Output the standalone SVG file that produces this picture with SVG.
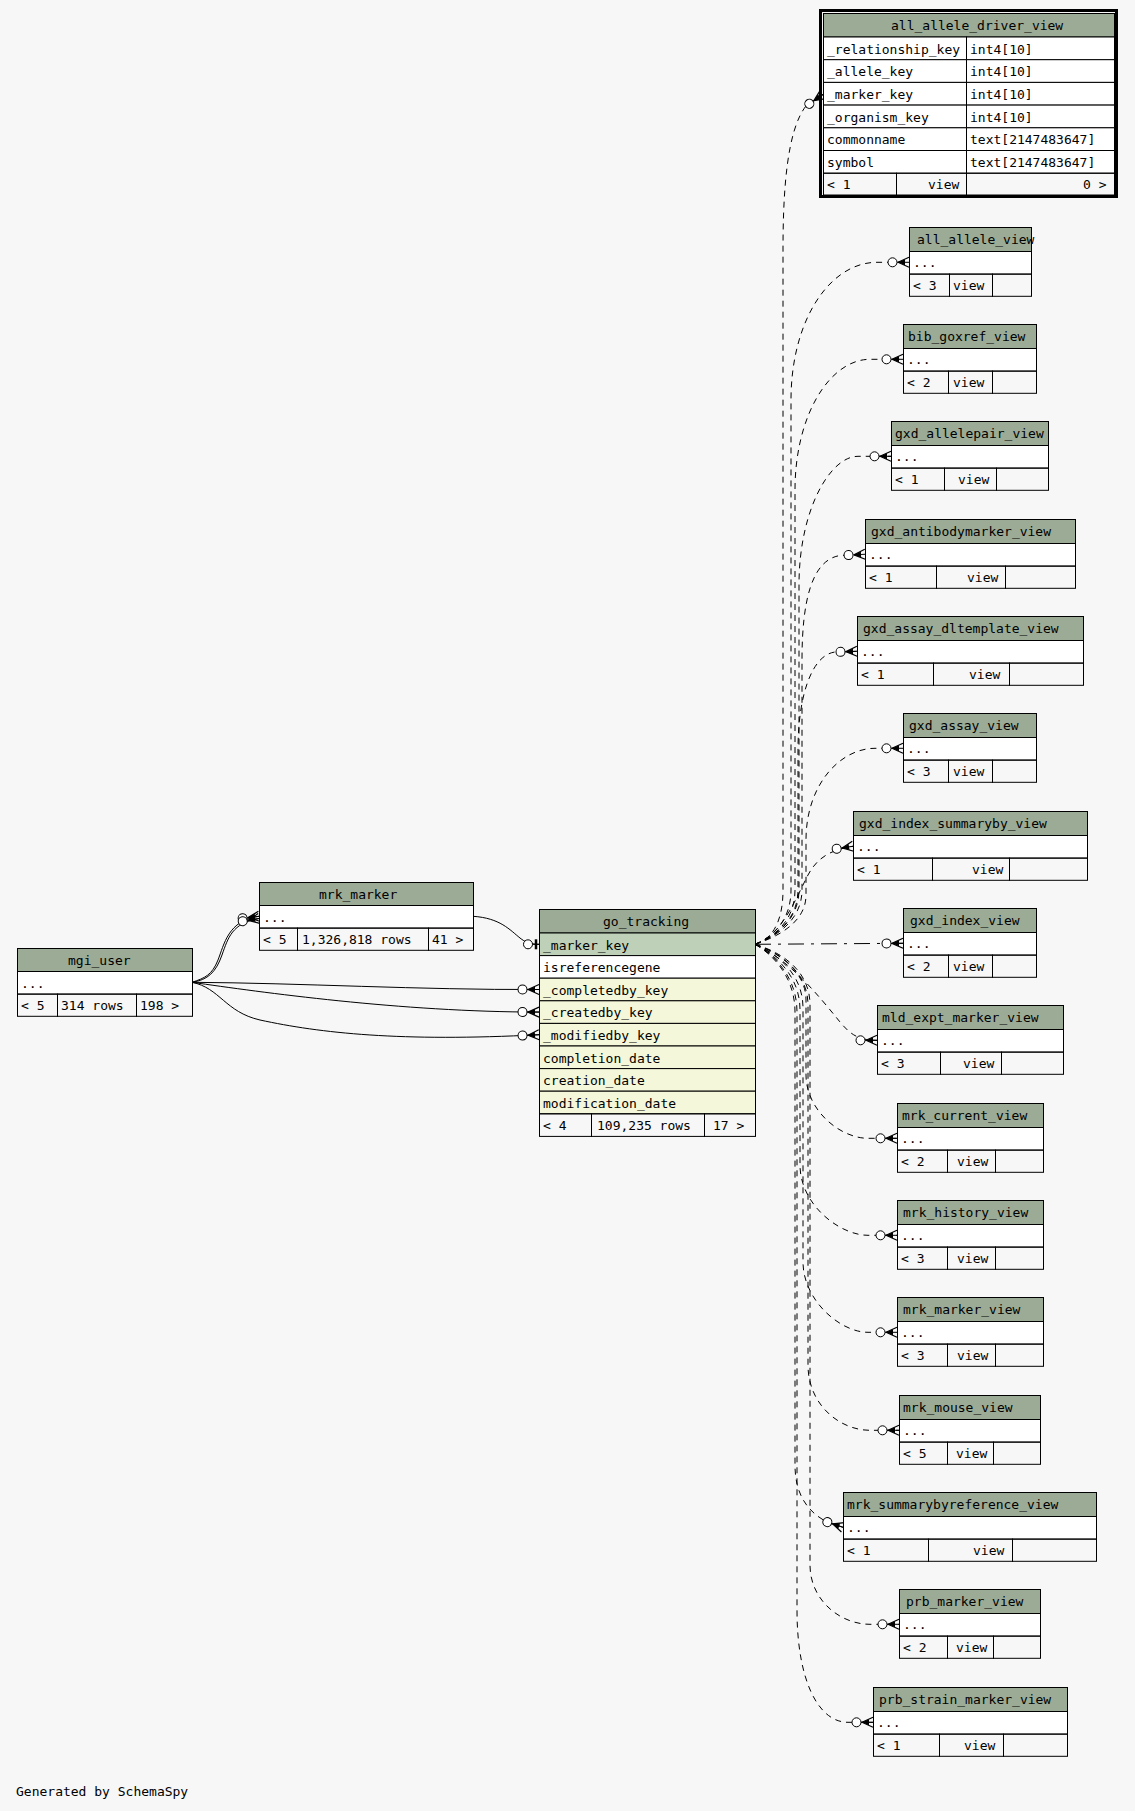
<svg xmlns="http://www.w3.org/2000/svg" width="1135" height="1811" viewBox="0 0 1135 1811">
<style>
.h{fill:#9bab96;stroke:#000;stroke-width:1}
.w{fill:#fff;stroke:#000;stroke-width:1}
.pk{fill:#bed1b8;stroke:#000;stroke-width:1}
.ix{fill:#f4f7da;stroke:#000;stroke-width:1}
.f{fill:none;stroke:#000;stroke-width:1}
text{font-family:"DejaVu Sans Mono","Liberation Mono",monospace;font-size:13px;fill:#000}
.e{fill:none;stroke:#000;stroke-width:1}
.d{stroke-dasharray:6,5}
.dd{stroke-dasharray:16,7,3,7}
</style>
<defs>
<marker id="crow" markerUnits="userSpaceOnUse" markerWidth="26" markerHeight="14" viewBox="-23 -7 26 14" refX="0" refY="0" orient="auto" overflow="visible">
<line x1="-12" y1="0" x2="0" y2="0" stroke="#000" stroke-width="1"/>
<path d="M-11,0 L0,-5 M-11,0 L0,5" stroke="#000" stroke-width="1.2" fill="none"/>
<path d="M-11,0 L-4,-3 L-4,3 Z" fill="#000"/>
<circle cx="-16.5" cy="0" r="4.5" fill="#fff" stroke="#000" stroke-width="1"/>
</marker>
<marker id="tee" markerUnits="userSpaceOnUse" markerWidth="20" markerHeight="14" viewBox="-18 -7 20 14" refX="0" refY="0" orient="auto" overflow="visible">
<line x1="-7" y1="0" x2="0" y2="0" stroke="#000" stroke-width="1"/>
<line x1="-3" y1="-5" x2="-3" y2="5" stroke="#000" stroke-width="2.5"/>
<circle cx="-11" cy="0" r="4.5" fill="#fff" stroke="#000" stroke-width="1"/>
</marker>
</defs>
<rect x="0" y="0" width="1135" height="1811" fill="#f7f7f7"/>

<g id="connectors">
<path class="e" d="M192,982.3 C205,978 212,975 218,960 C224,945 228,920 259,916.3" marker-end="url(#crow)"/>
<path class="e" d="M192,982.3 C208,980 216,972 222,955 C228,938 232,923 259,918.5" marker-end="url(#crow)"/>
<path class="e" d="M192,982.3 C300,983 420,990 539,989.5" marker-end="url(#crow)"/>
<path class="e" d="M192,982.3 C260,992 400,1012 539,1012.1" marker-end="url(#crow)"/>
<path class="e" d="M192,982.3 C220,988 225,1012 260,1020 C320,1033 400,1042 539,1034.7" marker-end="url(#crow)"/>
<path class="e" d="M473,916.3 C500,918 510,930 520,938 C525,942 530,944.3 539,944.3" marker-end="url(#tee)"/>

<path class="e d" d="M755,944.3 C770,940 783,925 783,890 L783,250 C783,190 787,130 806,106 L823,94.5" marker-end="url(#crow)"/>
<path class="e d" d="M755,944.3 C771,938 791,922 791,890 L791,400 C791,320 830,262.3 877,262.3 L909,262.3" marker-end="url(#crow)"/>
<path class="e d" d="M755,944.3 C772,938 795,922 795,890 L795,490 C795,415 830,359.3 870,359.3 L903,359.3" marker-end="url(#crow)"/>
<path class="e d" d="M755,944.3 C772,938 799,922 799,890 L799,585 C799,510 830,456.3 858,456.3 L891,456.3" marker-end="url(#crow)"/>
<path class="e d" d="M755,944.3 C773,938 802,922 802,890 L802,660 C802,600 812,560 840,555.5 L865,554.3" marker-end="url(#crow)"/>
<path class="e d" d="M755,944.3 C772,938 798,922 798,890 L798,750 C798,695 812,655 835,652 L857,651.3" marker-end="url(#crow)"/>
<path class="e d" d="M755,944.3 C774,938 806,924 806,895 L806,840 C806,785 840,748.3 875,748.3 L903,748.3" marker-end="url(#crow)"/>
<path class="e d" d="M755,944.3 C782,935 795,900 808,875 C816,860 828,850 853,846.3" marker-end="url(#crow)"/>
<path class="e dd" d="M755,944.3 L903,943.3" marker-end="url(#crow)"/>
<path class="e d" d="M755,944.3 C790,960 818,995 840,1022 C850,1034 858,1040.3 877,1040.3" marker-end="url(#crow)"/>
<path class="e d" d="M755,944.3 C772,950 806,968 806,1000 L806,1075 C806,1110 840,1138.3 868,1138.3 L897,1138.3" marker-end="url(#crow)"/>
<path class="e d" d="M755,944.3 C770,952 800,972 800,1010 L800,1165 C800,1205 840,1235.3 868,1235.3 L897,1235.3" marker-end="url(#crow)"/>
<path class="e d" d="M755,944.3 C771,951 803,970 803,1008 L803,1262 C803,1300 840,1332.3 868,1332.3 L897,1332.3" marker-end="url(#crow)"/>
<path class="e d" d="M755,944.3 C773,950 808,968 808,1005 L808,1365 C808,1405 840,1430.3 870,1430.3 L899,1430.3" marker-end="url(#crow)"/>
<path class="e d" d="M755,944.3 C769,952 795,974 795,1012 L795,1465 C795,1495 808,1512 827,1522 L843,1527.3" marker-end="url(#crow)"/>
<path class="e d" d="M755,944.3 C774,950 810,966 810,1005 L810,1565 C810,1600 840,1624.3 870,1624.3 L899,1624.3" marker-end="url(#crow)"/>
<path class="e d" d="M755,944.3 C770,952 797,974 797,1012 L797,1610 C797,1680 818,1722.3 848,1722.3 L873,1722.3" marker-end="url(#crow)"/>
</g>

<g id="all_allele_driver_view">
<rect x="820.5" y="10.5" width="296" height="186" fill="none" stroke="#000" stroke-width="3"/>
<rect class="h" x="823.5" y="13.5" width="291" height="23.5"/>
<rect class="w" x="823.5" y="37" width="143" height="22.7"/><rect class="w" x="966.5" y="37" width="148" height="22.7"/>
<rect class="w" x="823.5" y="59.7" width="143" height="22.7"/><rect class="w" x="966.5" y="59.7" width="148" height="22.7"/>
<rect class="w" x="823.5" y="82.4" width="143" height="22.7"/><rect class="w" x="966.5" y="82.4" width="148" height="22.7"/>
<rect class="w" x="823.5" y="105.1" width="143" height="22.7"/><rect class="w" x="966.5" y="105.1" width="148" height="22.7"/>
<rect class="w" x="823.5" y="127.8" width="143" height="22.7"/><rect class="w" x="966.5" y="127.8" width="148" height="22.7"/>
<rect class="w" x="823.5" y="150.5" width="143" height="22.7"/><rect class="w" x="966.5" y="150.5" width="148" height="22.7"/>
<rect class="f" x="823.5" y="173.2" width="73" height="21.8"/><rect class="f" x="896.5" y="173.2" width="70" height="21.8"/><rect class="f" x="966.5" y="173.2" width="148" height="21.8"/>
<text x="891" y="30">all_allele_driver_view</text>
<text x="827" y="53.5">_relationship_key</text><text x="970" y="53.5">int4[10]</text>
<text x="827" y="76.2">_allele_key</text><text x="970" y="76.2">int4[10]</text>
<text x="827" y="98.9">_marker_key</text><text x="970" y="98.9">int4[10]</text>
<text x="827" y="121.6">_organism_key</text><text x="970" y="121.6">int4[10]</text>
<text x="827" y="144.3">commonname</text><text x="970" y="144.3">text[2147483647]</text>
<text x="827" y="167">symbol</text><text x="970" y="167">text[2147483647]</text>
<text x="827" y="189">&lt; 1</text><text x="928" y="189">view</text><text x="1083" y="189">0 &gt;</text>
</g>

<g id="mgi_user">
<rect class="h" x="17.5" y="948.5" width="175" height="23"/>
<rect class="w" x="17.5" y="971.5" width="175" height="22.6"/>
<rect class="f" x="17.5" y="994.1" width="40" height="22.2"/><rect class="f" x="57.5" y="994.1" width="79" height="22.2"/><rect class="f" x="136.5" y="994.1" width="56" height="22.2"/>
<text x="68" y="965">mgi_user</text>
<text x="21" y="987.5">...</text>
<text x="21" y="1010">&lt; 5</text><text x="61" y="1010">314 rows</text><text x="140" y="1010">198 &gt;</text>
</g>

<g id="mrk_marker">
<rect class="h" x="259.5" y="882.5" width="214" height="23"/>
<rect class="w" x="259.5" y="905.5" width="214" height="22.6"/>
<rect class="f" x="259.5" y="928.1" width="38" height="22.2"/><rect class="f" x="297.5" y="928.1" width="131" height="22.2"/><rect class="f" x="428.5" y="928.1" width="45" height="22.2"/>
<text x="319" y="899">mrk_marker</text>
<text x="263" y="921.5">...</text>
<text x="263" y="944">&lt; 5</text><text x="302" y="944">1,326,818 rows</text><text x="432" y="944">41 &gt;</text>
</g>

<g id="go_tracking">
<rect class="h" x="539.5" y="909.5" width="216" height="23.5"/>
<rect class="pk" x="539.5" y="933" width="216" height="22.6"/>
<rect class="w" x="539.5" y="955.6" width="216" height="22.6"/>
<rect class="ix" x="539.5" y="978.2" width="216" height="22.6"/>
<rect class="ix" x="539.5" y="1000.8" width="216" height="22.6"/>
<rect class="ix" x="539.5" y="1023.4" width="216" height="22.6"/>
<rect class="ix" x="539.5" y="1046" width="216" height="22.6"/>
<rect class="ix" x="539.5" y="1068.6" width="216" height="22.6"/>
<rect class="ix" x="539.5" y="1091.2" width="216" height="22.6"/>
<rect class="f" x="539.5" y="1113.8" width="52" height="22.6"/><rect class="f" x="591.5" y="1113.8" width="113" height="22.6"/><rect class="f" x="704.5" y="1113.8" width="51" height="22.6"/>
<text x="603" y="926">go_tracking</text>
<text x="543" y="949.6">_marker_key</text>
<text x="543" y="972.2">isreferencegene</text>
<text x="543" y="994.8">_completedby_key</text>
<text x="543" y="1017.4">_createdby_key</text>
<text x="543" y="1040">_modifiedby_key</text>
<text x="543" y="1062.6">completion_date</text>
<text x="543" y="1085.2">creation_date</text>
<text x="543" y="1107.8">modification_date</text>
<text x="543" y="1130.4">&lt; 4</text><text x="597" y="1130.4">109,235 rows</text><text x="713" y="1130.4">17 &gt;</text>
</g>

<g id="all_allele_view">
<rect class="h" x="909.5" y="227.5" width="122" height="24"/>
<rect class="w" x="909.5" y="251.5" width="122" height="22.6"/>
<rect class="f" x="909.5" y="274.1" width="40" height="22.2"/><rect class="f" x="949.5" y="274.1" width="43" height="22.2"/><rect class="f" x="992.5" y="274.1" width="39" height="22.2"/>
<text x="917" y="244">all_allele_view</text><text x="913" y="267">...</text>
<text x="913" y="290">&lt; 3</text><text x="953" y="290">view</text>
</g>

<g id="bib_goxref_view">
<rect class="h" x="903.5" y="324.5" width="133" height="24"/>
<rect class="w" x="903.5" y="348.5" width="133" height="22.6"/>
<rect class="f" x="903.5" y="371.1" width="45" height="22.2"/><rect class="f" x="948.5" y="371.1" width="44" height="22.2"/><rect class="f" x="992.5" y="371.1" width="44" height="22.2"/>
<text x="908" y="341">bib_goxref_view</text><text x="907" y="364">...</text>
<text x="907" y="387">&lt; 2</text><text x="953" y="387">view</text>
</g>

<g id="gxd_allelepair_view">
<rect class="h" x="891.5" y="421.5" width="157" height="24"/>
<rect class="w" x="891.5" y="445.5" width="157" height="22.6"/>
<rect class="f" x="891.5" y="468.1" width="53" height="22.2"/><rect class="f" x="944.5" y="468.1" width="52" height="22.2"/><rect class="f" x="996.5" y="468.1" width="52" height="22.2"/>
<text x="895" y="438">gxd_allelepair_view</text><text x="895" y="461">...</text>
<text x="895" y="484">&lt; 1</text><text x="958" y="484">view</text>
</g>

<g id="gxd_antibodymarker_view">
<rect class="h" x="865.5" y="519.5" width="210" height="24"/>
<rect class="w" x="865.5" y="543.5" width="210" height="22.6"/>
<rect class="f" x="865.5" y="566.1" width="71" height="22.2"/><rect class="f" x="936.5" y="566.1" width="69" height="22.2"/><rect class="f" x="1005.5" y="566.1" width="70" height="22.2"/>
<text x="871" y="536">gxd_antibodymarker_view</text><text x="869" y="559">...</text>
<text x="869" y="582">&lt; 1</text><text x="967" y="582">view</text>
</g>

<g id="gxd_assay_dltemplate_view">
<rect class="h" x="857.5" y="616.5" width="226" height="24"/>
<rect class="w" x="857.5" y="640.5" width="226" height="22.6"/>
<rect class="f" x="857.5" y="663.1" width="76" height="22.2"/><rect class="f" x="933.5" y="663.1" width="76" height="22.2"/><rect class="f" x="1009.5" y="663.1" width="74" height="22.2"/>
<text x="863" y="633">gxd_assay_dltemplate_view</text><text x="861" y="656">...</text>
<text x="861" y="679">&lt; 1</text><text x="969" y="679">view</text>
</g>

<g id="gxd_assay_view">
<rect class="h" x="903.5" y="713.5" width="133" height="24"/>
<rect class="w" x="903.5" y="737.5" width="133" height="22.6"/>
<rect class="f" x="903.5" y="760.1" width="45" height="22.2"/><rect class="f" x="948.5" y="760.1" width="44" height="22.2"/><rect class="f" x="992.5" y="760.1" width="44" height="22.2"/>
<text x="909" y="730">gxd_assay_view</text><text x="907" y="753">...</text>
<text x="907" y="776">&lt; 3</text><text x="953" y="776">view</text>
</g>

<g id="gxd_index_summaryby_view">
<rect class="h" x="853.5" y="811.5" width="234" height="24"/>
<rect class="w" x="853.5" y="835.5" width="234" height="22.6"/>
<rect class="f" x="853.5" y="858.1" width="79" height="22.2"/><rect class="f" x="932.5" y="858.1" width="77" height="22.2"/><rect class="f" x="1009.5" y="858.1" width="78" height="22.2"/>
<text x="859" y="828">gxd_index_summaryby_view</text><text x="857" y="851">...</text>
<text x="857" y="874">&lt; 1</text><text x="972" y="874">view</text>
</g>

<g id="gxd_index_view">
<rect class="h" x="903.5" y="908.5" width="133" height="24"/>
<rect class="w" x="903.5" y="932.5" width="133" height="22.6"/>
<rect class="f" x="903.5" y="955.1" width="45" height="22.2"/><rect class="f" x="948.5" y="955.1" width="44" height="22.2"/><rect class="f" x="992.5" y="955.1" width="44" height="22.2"/>
<text x="910" y="925">gxd_index_view</text><text x="907" y="948">...</text>
<text x="907" y="971">&lt; 2</text><text x="953" y="971">view</text>
</g>

<g id="mld_expt_marker_view">
<rect class="h" x="877.5" y="1005.5" width="186" height="24"/>
<rect class="w" x="877.5" y="1029.5" width="186" height="22.6"/>
<rect class="f" x="877.5" y="1052.1" width="63" height="22.2"/><rect class="f" x="940.5" y="1052.1" width="61" height="22.2"/><rect class="f" x="1001.5" y="1052.1" width="62" height="22.2"/>
<text x="882" y="1022">mld_expt_marker_view</text><text x="881" y="1045">...</text>
<text x="881" y="1068">&lt; 3</text><text x="963" y="1068">view</text>
</g>

<g id="mrk_current_view">
<rect class="h" x="897.5" y="1103.5" width="146" height="24"/>
<rect class="w" x="897.5" y="1127.5" width="146" height="22.6"/>
<rect class="f" x="897.5" y="1150.1" width="50" height="22.2"/><rect class="f" x="947.5" y="1150.1" width="48" height="22.2"/><rect class="f" x="995.5" y="1150.1" width="48" height="22.2"/>
<text x="902" y="1120">mrk_current_view</text><text x="901" y="1143">...</text>
<text x="901" y="1166">&lt; 2</text><text x="957" y="1166">view</text>
</g>

<g id="mrk_history_view">
<rect class="h" x="897.5" y="1200.5" width="146" height="24"/>
<rect class="w" x="897.5" y="1224.5" width="146" height="22.6"/>
<rect class="f" x="897.5" y="1247.1" width="50" height="22.2"/><rect class="f" x="947.5" y="1247.1" width="48" height="22.2"/><rect class="f" x="995.5" y="1247.1" width="48" height="22.2"/>
<text x="903" y="1217">mrk_history_view</text><text x="901" y="1240">...</text>
<text x="901" y="1263">&lt; 3</text><text x="957" y="1263">view</text>
</g>

<g id="mrk_marker_view">
<rect class="h" x="897.5" y="1297.5" width="146" height="24"/>
<rect class="w" x="897.5" y="1321.5" width="146" height="22.6"/>
<rect class="f" x="897.5" y="1344.1" width="50" height="22.2"/><rect class="f" x="947.5" y="1344.1" width="48" height="22.2"/><rect class="f" x="995.5" y="1344.1" width="48" height="22.2"/>
<text x="903" y="1314">mrk_marker_view</text><text x="901" y="1337">...</text>
<text x="901" y="1360">&lt; 3</text><text x="957" y="1360">view</text>
</g>

<g id="mrk_mouse_view">
<rect class="h" x="899.5" y="1395.5" width="141" height="24"/>
<rect class="w" x="899.5" y="1419.5" width="141" height="22.6"/>
<rect class="f" x="899.5" y="1442.1" width="48" height="22.2"/><rect class="f" x="947.5" y="1442.1" width="46" height="22.2"/><rect class="f" x="993.5" y="1442.1" width="47" height="22.2"/>
<text x="903" y="1412">mrk_mouse_view</text><text x="903" y="1435">...</text>
<text x="903" y="1458">&lt; 5</text><text x="956" y="1458">view</text>
</g>

<g id="mrk_summarybyreference_view">
<rect class="h" x="843.5" y="1492.5" width="253" height="24"/>
<rect class="w" x="843.5" y="1516.5" width="253" height="22.6"/>
<rect class="f" x="843.5" y="1539.1" width="85" height="22.2"/><rect class="f" x="928.5" y="1539.1" width="84" height="22.2"/><rect class="f" x="1012.5" y="1539.1" width="84" height="22.2"/>
<text x="847" y="1509">mrk_summarybyreference_view</text><text x="847" y="1532">...</text>
<text x="847" y="1555">&lt; 1</text><text x="973" y="1555">view</text>
</g>

<g id="prb_marker_view">
<rect class="h" x="899.5" y="1589.5" width="141" height="24"/>
<rect class="w" x="899.5" y="1613.5" width="141" height="22.6"/>
<rect class="f" x="899.5" y="1636.1" width="48" height="22.2"/><rect class="f" x="947.5" y="1636.1" width="46" height="22.2"/><rect class="f" x="993.5" y="1636.1" width="47" height="22.2"/>
<text x="906" y="1606">prb_marker_view</text><text x="903" y="1629">...</text>
<text x="903" y="1652">&lt; 2</text><text x="956" y="1652">view</text>
</g>

<g id="prb_strain_marker_view">
<rect class="h" x="873.5" y="1687.5" width="194" height="24"/>
<rect class="w" x="873.5" y="1711.5" width="194" height="22.6"/>
<rect class="f" x="873.5" y="1734.1" width="66" height="22.2"/><rect class="f" x="939.5" y="1734.1" width="64" height="22.2"/><rect class="f" x="1003.5" y="1734.1" width="64" height="22.2"/>
<text x="879" y="1704">prb_strain_marker_view</text><text x="877" y="1727">...</text>
<text x="877" y="1750">&lt; 1</text><text x="964" y="1750">view</text>
</g>

<text x="16" y="1796">Generated by SchemaSpy</text>
</svg>
